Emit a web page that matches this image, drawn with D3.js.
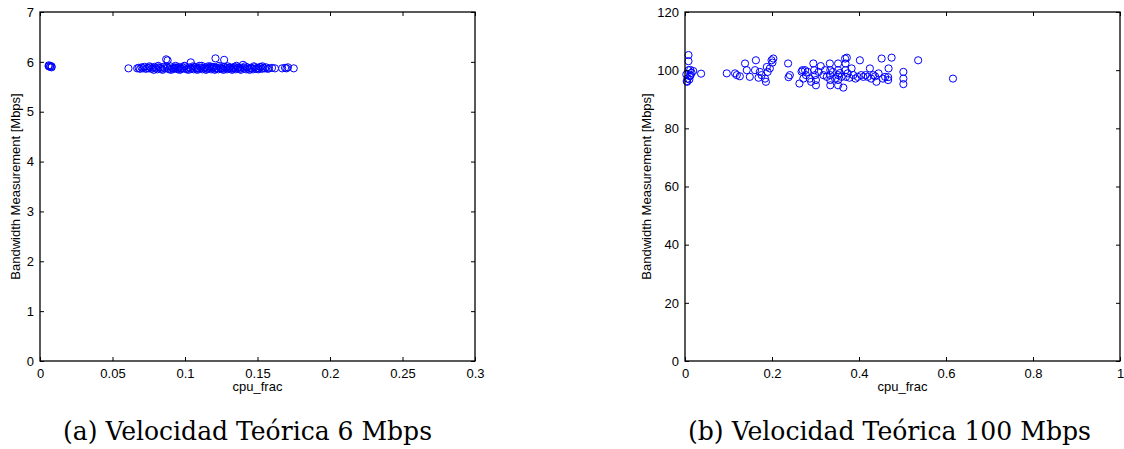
<!DOCTYPE html>
<html>
<head>
<meta charset="utf-8">
<script src="https://cdn.jsdelivr.net/npm/d3@7"></script>
<style>
  html, body { margin: 0; padding: 0; background: #fff; }
  svg { display: block; }
  .tick-label { font-family: "Liberation Sans", Arial, sans-serif; font-size: 13px; fill: #000; }
  .axis-title { font-family: "Liberation Sans", Arial, sans-serif; font-size: 13px; fill: #000; }
  .caption { font-family: "DejaVu Serif", serif; font-size: 26px; fill: #000; }
</style>
</head>
<body>
<svg id="fig" width="1124" height="449"></svg>
<script>
// Panel (a): 6 Mbps link, [cpu_frac, bandwidth Mbps]
const points6 = [
  [0.006,5.93],[0.007,5.92],[0.007,5.90],[0.008,5.89],[0.006,5.91],[0.008,5.91],
  [0.061,5.87],
  [0.067,5.87],[0.068,5.88],[0.069,5.86],[0.070,5.89],[0.071,5.87],[0.072,5.90],[0.073,5.86],
  [0.074,5.88],[0.075,5.87],[0.076,5.89],[0.077,5.86],[0.078,5.88],[0.079,5.90],[0.080,5.87],
  [0.081,5.85],[0.082,5.89],[0.083,5.88],[0.084,5.86],[0.085,5.90],[0.086,5.87],[0.087,6.05],
  [0.088,6.03],[0.088,5.88],[0.089,5.85],[0.090,5.91],[0.091,5.87],[0.092,5.86],[0.093,5.89],
  [0.094,5.88],[0.095,5.85],[0.096,5.90],[0.097,5.87],[0.098,5.86],[0.099,5.88],[0.100,5.91],
  [0.101,5.85],[0.102,5.87],[0.103,5.89],[0.104,5.99],[0.104,5.86],[0.105,5.88],[0.106,5.85],
  [0.107,5.90],[0.108,5.87],[0.109,5.86],[0.110,5.92],[0.111,5.88],[0.112,5.85],[0.113,5.87],
  [0.114,5.89],[0.115,5.86],[0.116,5.91],[0.117,5.88],[0.118,5.85],[0.119,5.87],[0.120,5.90],
  [0.121,6.07],[0.121,5.86],[0.122,5.88],[0.123,5.85],[0.124,5.89],[0.125,5.87],[0.126,5.86],
  [0.127,6.04],[0.127,5.90],[0.128,5.88],[0.129,5.85],[0.130,5.87],[0.131,5.89],[0.132,5.86],
  [0.133,5.88],[0.134,5.90],[0.135,5.85],[0.136,5.87],[0.137,5.89],[0.138,5.86],[0.139,5.88],
  [0.140,5.94],[0.141,5.87],[0.142,5.85],[0.143,5.89],[0.144,5.86],[0.145,5.88],[0.146,5.87],
  [0.147,5.85],[0.148,5.89],[0.149,5.86],[0.150,5.88],[0.151,5.87],[0.152,5.90],[0.153,5.86],
  [0.154,5.88],[0.155,5.87],[0.156,5.89],[0.157,5.86],[0.158,5.87],[0.160,5.88],[0.162,5.87],
  [0.167,5.87],[0.169,5.88],[0.170,5.87],[0.171,5.89],[0.175,5.87],
  [0.0755,5.91],[0.0785,5.84],[0.0815,5.92],[0.0845,5.84],[0.0875,5.91],[0.0905,5.84],
  [0.0935,5.92],[0.0965,5.84],[0.0995,5.92],[0.1025,5.84],[0.1055,5.91],[0.1085,5.84],
  [0.1115,5.92],[0.1145,5.84],[0.1175,5.91],[0.1205,5.84],[0.1235,5.92],[0.1265,5.84],
  [0.1295,5.91],[0.1325,5.84],[0.1355,5.92],[0.1385,5.84],[0.1415,5.91],[0.1445,5.84],
  [0.1475,5.91],[0.1505,5.85],[0.1535,5.91],[0.0925,5.87],[0.0955,5.88],[0.1085,5.88],
  [0.1155,5.87],[0.1185,5.89],[0.1215,5.88],[0.1245,5.87],[0.1305,5.88],[0.1335,5.87],
  [0.1365,5.88]
];

// Panel (b): 100 Mbps link, [cpu_frac, bandwidth Mbps]
const points100 = [
  [0.008,105.2],[0.008,103.1],[0.004,96.2],[0.006,97.1],[0.011,97.9],[0.015,99.1],[0.019,99.7],
  [0.008,100.0],[0.003,98.5],[0.012,100.1],[0.005,96.0],[0.010,96.8],[0.013,98.3],[0.037,98.8],
  [0.096,98.9],[0.115,98.9],[0.119,98.3],[0.126,97.9],[0.138,102.3],[0.142,100.0],[0.149,97.7],
  [0.161,100.0],[0.163,103.4],[0.169,97.4],[0.172,99.4],[0.176,98.3],[0.184,97.1],[0.186,96.0],
  [0.188,101.1],[0.190,99.4],[0.195,100.6],[0.199,103.4],[0.203,104.0],[0.201,102.6],
  [0.237,102.3],[0.241,98.3],[0.238,97.6],[0.263,95.4],[0.268,99.5],[0.272,97.1],
  [0.270,100.0],[0.276,100.0],[0.278,98.3],[0.282,99.4],[0.287,97.1],[0.290,96.0],[0.295,102.3],
  [0.297,100.0],[0.299,98.3],[0.301,96.6],[0.301,94.8],[0.307,99.4],[0.312,101.4],[0.318,98.3],
  [0.322,100.0],[0.326,97.7],[0.333,102.3],[0.334,100.0],[0.334,98.3],[0.334,96.6],[0.334,94.8],
  [0.340,99.4],[0.345,97.1],[0.352,102.3],[0.352,100.0],[0.352,98.3],[0.352,96.6],[0.352,94.8],
  [0.356,99.0],[0.360,97.7],[0.368,104.0],[0.372,104.3],[0.369,102.3],[0.369,100.0],[0.370,97.7],
  [0.364,94.0],[0.374,98.9],[0.378,97.4],[0.383,100.6],[0.387,98.3],[0.392,97.1],[0.397,97.7],
  [0.402,103.4],[0.405,98.3],[0.410,97.7],[0.415,98.3],[0.420,97.7],[0.425,100.6],[0.428,97.1],
  [0.433,98.3],[0.437,97.9],[0.440,96.0],[0.445,98.9],[0.452,104.0],[0.455,97.1],[0.460,97.7],
  [0.467,97.6],[0.467,96.6],[0.468,100.6],[0.475,104.3],[0.502,99.4],[0.502,97.1],[0.502,95.2],
  [0.536,103.4],[0.616,97.1]
];

const xTicks6 = [0, 0.05, 0.1, 0.15, 0.2, 0.25, 0.3];
const yTicks6 = [0, 1, 2, 3, 4, 5, 6, 7];
const xTicks100 = [0, 0.2, 0.4, 0.6, 0.8, 1];
const yTicks100 = [0, 20, 40, 60, 80, 100, 120];

const xTitle = "cpu_frac";
const yTitle = "Bandwidth Measurement [Mbps]";
const captions = ["(a) Velocidad Teórica 6 Mbps", "(b) Velocidad Teórica 100 Mbps"];

const svg = d3.select("#fig");

function panel(opts) {
  const { left, right, top, bottom, xDomain, yDomain, xTicks, yTicks, data,
          yTitleX, caption, capX0, capX1 } = opts;
  const x = d3.scaleLinear().domain(xDomain).range([left, right]);
  const y = d3.scaleLinear().domain(yDomain).range([bottom, top]);
  const g = svg.append("g");
  const tickLen = 4;
  const fmt = d => String(+d.toFixed(4));

  // markers
  g.append("g").selectAll("circle").data(data).join("circle")
    .attr("cx", d => x(d[0])).attr("cy", d => y(d[1])).attr("r", 3.6)
    .attr("fill", "none").attr("stroke", "#0000ff").attr("stroke-width", 1);

  // inward ticks on all four sides
  const axB = d3.axisBottom(x).tickValues(xTicks).tickSize(-tickLen).tickPadding(8).tickFormat(fmt);
  const axT = d3.axisTop(x).tickValues(xTicks).tickSize(-tickLen).tickFormat("");
  const axL = d3.axisLeft(y).tickValues(yTicks).tickSize(-tickLen).tickPadding(6).tickFormat(fmt);
  const axR = d3.axisRight(y).tickValues(yTicks).tickSize(-tickLen).tickFormat("");

  const style = sel => {
    sel.select("path.domain").remove();
    sel.selectAll(".tick line").attr("stroke", "#000").attr("stroke-width", 1);
    sel.selectAll(".tick text").attr("class", "tick-label");
    sel.attr("font-family", null).attr("font-size", null);
  };
  g.append("g").attr("transform", `translate(0,${bottom})`).call(axB).call(style);
  g.append("g").attr("transform", `translate(0,${top})`).call(axT).call(style);
  g.append("g").attr("transform", `translate(${left},0)`).call(axL).call(style);
  g.append("g").attr("transform", `translate(${right},0)`).call(axR).call(style);

  // axes box
  g.append("rect")
    .attr("x", left).attr("y", top).attr("width", right - left).attr("height", bottom - top)
    .attr("fill", "none").attr("stroke", "#000").attr("stroke-width", 1.3);

  g.append("text").attr("class", "axis-title")
    .attr("x", (left + right) / 2).attr("y", bottom + 30)
    .attr("text-anchor", "middle").text(xTitle);
  g.append("text").attr("class", "axis-title")
    .attr("transform", `translate(${yTitleX},${(top + bottom) / 2}) rotate(-90)`)
    .attr("text-anchor", "middle").text(yTitle);

  g.append("text").attr("class", "caption")
    .attr("x", capX0).attr("y", 440)
    .attr("textLength", capX1 - capX0).attr("lengthAdjust", "spacingAndGlyphs")
    .text(caption);
}

panel({ left: 40, right: 475, top: 12, bottom: 361, xDomain: [0, 0.3], yDomain: [0, 7],
        xTicks: xTicks6, yTicks: yTicks6, data: points6, yTitleX: 20,
        caption: captions[0], capX0: 63, capX1: 432 });
panel({ left: 685, right: 1120, top: 12, bottom: 361, xDomain: [0, 1], yDomain: [0, 120],
        xTicks: xTicks100, yTicks: yTicks100, data: points100, yTitleX: 651,
        caption: captions[1], capX0: 688, capX1: 1091 });
</script>
</body>
</html>
